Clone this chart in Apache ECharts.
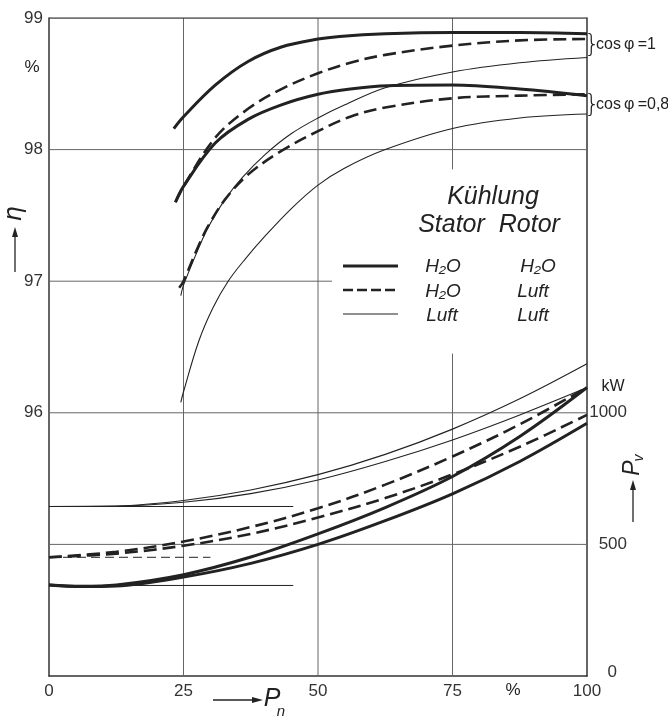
<!DOCTYPE html>
<html>
<head>
<meta charset="utf-8">
<title>Wirkungsgrad und Verluste</title>
<script src="https://cdn.jsdelivr.net/npm/echarts/dist/echarts.min.js"></script>
<style>
  html, body { margin: 0; padding: 0; background: #fff; }
  #main { width: 668px; height: 717px; }
</style>
</head>
<body>
<div id="main"></div>
<script type="text/javascript">
    // Wirkungsgrad eta (%) ueber Pn (%) - [Pn, eta]
    var etaCos1Solid = [[23.2,98.16],[25,98.25],[30.9,98.49],[37,98.67],[43.2,98.78],[50,98.84],[54,98.86],[62.5,98.88],[75,98.89],[87.5,98.89],[100,98.88]];
    var etaCos1Dash = [[23.5,97.6],[25,97.72],[30.9,98.09],[37,98.31],[43.2,98.46],[50,98.58],[56,98.66],[62.5,98.72],[75,98.79],[87.5,98.83],[100,98.84]];
    var etaCos1Thin = [[24.5,96.89],[25,96.97],[27.8,97.25],[29.6,97.41],[32.7,97.62],[36,97.79],[40.1,97.96],[45,98.12],[50,98.24],[55,98.34],[62.5,98.47],[75,98.59],[87.5,98.66],[100,98.7]];
    var etaCos08Solid = [[23.5,97.6],[25,97.72],[30.9,98.05],[37,98.23],[43.2,98.34],[50,98.42],[56,98.46],[63,98.485],[75,98.49],[87.5,98.46],[100,98.41]];
    var etaCos08Dash = [[24.2,96.95],[25,97.0],[27.8,97.27],[29.6,97.42],[32.7,97.62],[37,97.81],[43.2,97.99],[50,98.14],[56,98.25],[62.5,98.32],[75,98.39],[87.5,98.41],[100,98.42]];
    var etaCos08Thin = [[24.5,96.08],[25,96.16],[27.8,96.54],[30.5,96.8],[33.3,97.0],[36.5,97.17],[40.1,97.34],[45,97.55],[50,97.73],[55,97.86],[62.5,98.0],[75,98.16],[87.5,98.24],[100,98.27]];

    // Verluste Pv (kW) ueber Pn (%)
    var pvX = [0, 12.5, 25, 37.5, 50, 62.5, 75, 87.5, 100];
    var pvThinUpper = [644, 646, 667, 707, 765, 842, 938, 1053, 1186];
    var pvThinLower = [644, 645, 660, 693, 745, 815, 897, 992, 1096];
    var pvDashUpper = [451, 472, 511, 566, 637, 727, 834, 956, 1096];
    var pvDashLower = [451, 465, 495, 540, 602, 676, 766, 871, 992];
    var pvSolidX = [0, 6, 12.5, 25, 37.5, 50, 62.5, 75, 87.5, 100];
    var pvSolidUpper = [346, 341, 346, 385, 452, 540, 640, 758, 910, 1096];
    var pvSolidLower = [346, 340, 342, 376, 428, 500, 590, 692, 815, 960];

    // Leerlaufverluste (waagerechte Hilfslinien): [Pv, Ende bei Pn]
    var refThin = [644, 45.4];
    var refDash = [451, 30];
    var refSolid = [344, 45.4];

    // Gitter
    var xGrid = [25, 50, 75];
    var etaGrid = [95, 96, 97, 98, 99];
    var gap75 = [96.45, 97.85];   // Luecke fuer die Legende
    var eta97End = 52.6;

    var ink = '#222';
    var gridColor = '#666';
    var fontMain = '"Liberation Sans", Arial, sans-serif';

    var thick = {color: ink, width: 3};
    var dash = {color: ink, width: 2.6, type: [13, 6]};
    var thin = {color: ink, width: 1.1};

    function zip(xs, ys) {
        return xs.map(function (x, i) { return [x, ys[i]]; });
    }

    function curve(data, style, yIdx) {
        return {
            type: 'line', data: data, yAxisIndex: yIdx || 0,
            smooth: 0.35, symbol: 'none', showSymbol: false,
            lineStyle: style, silent: true, animation: false, z: 3
        };
    }

    function seg(a, b, style, yIdx) {
        return {
            type: 'line', data: [a, b], yAxisIndex: yIdx || 0,
            symbol: 'none', showSymbol: false, lineStyle: style,
            silent: true, animation: false, z: 1
        };
    }

    var gridStyle = {color: gridColor, width: 1};
    var series = [];
    xGrid.forEach(function (x) {
        if (x === 75) {
            series.push(seg([x, 94], [x, gap75[0]], gridStyle));
            series.push(seg([x, gap75[1]], [x, 99], gridStyle));
        } else {
            series.push(seg([x, 94], [x, 99], gridStyle));
        }
    });
    etaGrid.forEach(function (e) {
        series.push(seg([0, e], [e === 97 ? eta97End : 100, e], e === 99 ? {color: '#444', width: 1.3} : gridStyle));
    });

    series.push(seg([0, refThin[0]], [refThin[1], refThin[0]], {color: ink, width: 1}, 1));
    series.push(seg([0, refDash[0]], [refDash[1], refDash[0]], {color: ink, width: 1, type: [9, 5]}, 1));
    series.push(seg([0, refSolid[0]], [refSolid[1], refSolid[0]], {color: ink, width: 1}, 1));

    series.push(curve(etaCos1Solid, thick));
    series.push(curve(etaCos1Dash, dash));
    series.push(curve(etaCos1Thin, thin));
    series.push(curve(etaCos08Solid, thick));
    series.push(curve(etaCos08Dash, dash));
    series.push(curve(etaCos08Thin, thin));

    series.push(curve(zip(pvX, pvThinUpper), thin, 1));
    series.push(curve(zip(pvX, pvThinLower), thin, 1));
    series.push(curve(zip(pvX, pvDashUpper), dash, 1));
    series.push(curve(zip(pvX, pvDashLower), dash, 1));
    series.push(curve(zip(pvSolidX, pvSolidUpper), thick, 1));
    series.push(curve(zip(pvSolidX, pvSolidLower), thick, 1));

    // kleine Helfer fuer Pfeile und Texte
    function arrowUp(x, y1, y2) {
        return [
            {type: 'line', shape: {x1: x, y1: y1, x2: x, y2: y2 + 8}, style: {stroke: ink, lineWidth: 1.3}},
            {type: 'polygon', shape: {points: [[x, y2], [x - 3, y2 + 10], [x + 3, y2 + 10]]}, style: {fill: ink}}
        ];
    }
    function arrowRight(x1, x2, y) {
        return [
            {type: 'line', shape: {x1: x1, y1: y, x2: x2 - 8, y2: y}, style: {stroke: ink, lineWidth: 1.3}},
            {type: 'polygon', shape: {points: [[x2, y], [x2 - 11, y - 3], [x2 - 11, y + 3]]}, style: {fill: ink}}
        ];
    }
    function txt(x, y, text, font, align, extra) {
        var o = {type: 'text', x: x, y: y, silent: true,
            style: {text: text, font: font, fill: ink, align: align || 'center', verticalAlign: 'middle'}};
        if (extra) { for (var k in extra) { o[k] = extra[k]; } }
        return o;
    }
    function sampleLine(y, style) {
        return {type: 'line', shape: {x1: 343, y1: y, x2: 398, y2: y},
            style: {stroke: ink, lineWidth: style.width, lineDash: style.type && style.type.length ? style.type : null}};
    }

    var it17 = 'italic 19px ' + fontMain;
    var graphics = [];
    graphics.push(txt(32, 67, '%', '17px ' + fontMain));
    // eta Beschriftung
    graphics = graphics.concat(arrowUp(15, 272, 227));
    graphics.push({type: 'group', x: 15, y: 214, rotation: Math.PI / 2, children: [
        txt(0, 0, 'η', 'italic 24px "DejaVu Sans", sans-serif')
    ]});
    // Pn Beschriftung
    graphics = graphics.concat(arrowRight(213, 263, 700));
    graphics.push(txt(272, 699, 'P', 'italic 25px ' + fontMain));
    graphics.push(txt(281, 712, 'n', 'italic 15px ' + fontMain));
    graphics.push(txt(513, 690, '%', '17px ' + fontMain));
    // Pv Beschriftung
    graphics.push(txt(613, 387, 'kW', '16px ' + fontMain));
    graphics = graphics.concat(arrowUp(633, 522, 480));
    graphics.push({type: 'group', x: 633, y: 468, rotation: Math.PI / 2, children: [
        txt(0, 0, 'P', 'italic 23px ' + fontMain),
        txt(10, 6, 'v', 'italic 14px ' + fontMain)
    ]});
    // cos phi
    graphics.push(txt(592, 45, '}', '200 25px "DejaVu Sans", sans-serif'));
    graphics.push(txt(596, 45, 'cos\u2009φ\u2009=1', '16px ' + fontMain, 'left'));
    graphics.push(txt(592, 105, '}', '200 25px "DejaVu Sans", sans-serif'));
    graphics.push(txt(596, 105, 'cos\u2009φ\u2009=0,8', '16px ' + fontMain, 'left'));
    // Legende
    graphics.push(txt(493, 197, 'Kühlung', 'italic 25px ' + fontMain));
    graphics.push(txt(489, 225, 'Stator  Rotor', 'italic 25px ' + fontMain));
    graphics.push(sampleLine(266, thick));
    graphics.push(sampleLine(290, {width: 2.4, type: [10, 4]}));
    graphics.push(sampleLine(314, {width: 1.1}));
    graphics.push(txt(443, 267, 'H₂O', it17));
    graphics.push(txt(538, 267, 'H₂O', it17));
    graphics.push(txt(443, 292, 'H₂O', it17));
    graphics.push(txt(533, 292, 'Luft', it17));
    graphics.push(txt(442, 316, 'Luft', it17));
    graphics.push(txt(533, 316, 'Luft', it17));

    var labelStyle = {color: '#333', fontSize: 17, fontFamily: fontMain};

    var option = {
        animation: false,
        backgroundColor: '#fff',
        grid: {left: 49, right: 81, top: 18, bottom: 41, containLabel: false, outerBoundsMode: 'none'},
        xAxis: {
            type: 'value', min: 0, max: 100, interval: 25,
            axisLine: {show: true, lineStyle: {color: '#333', width: 1.5}},
            axisTick: {show: false}, splitLine: {show: false},
            axisLabel: Object.assign({margin: 7}, labelStyle)
        },
        yAxis: [{
            type: 'value', min: 94, max: 99, interval: 1, position: 'left',
            axisLine: {show: true, lineStyle: {color: '#333', width: 1.5}},
            axisTick: {show: false}, splitLine: {show: false},
            axisLabel: Object.assign({margin: 6, formatter: function (v) { return v >= 96 ? v : ''; }}, labelStyle)
        }, {
            type: 'value', min: 0, max: 2500, interval: 500, position: 'right',
            axisLine: {show: true, lineStyle: {color: '#333', width: 1.5}},
            axisTick: {show: false}, splitLine: {show: false},
            axisLabel: Object.assign({
                margin: 40, align: 'right',
                formatter: function (v) { return v === 0 ? '{z|0}' : (v <= 1000 ? v : ''); },
                rich: {z: {fontSize: 17, color: '#333', fontFamily: fontMain, padding: [0, 10, 8, 0]}}
            }, labelStyle)
        }],
        graphic: graphics,
        series: series
    };

    var myChart = echarts.init(document.getElementById('main'));
    myChart.setOption(option);
</script>
</body>
</html>
